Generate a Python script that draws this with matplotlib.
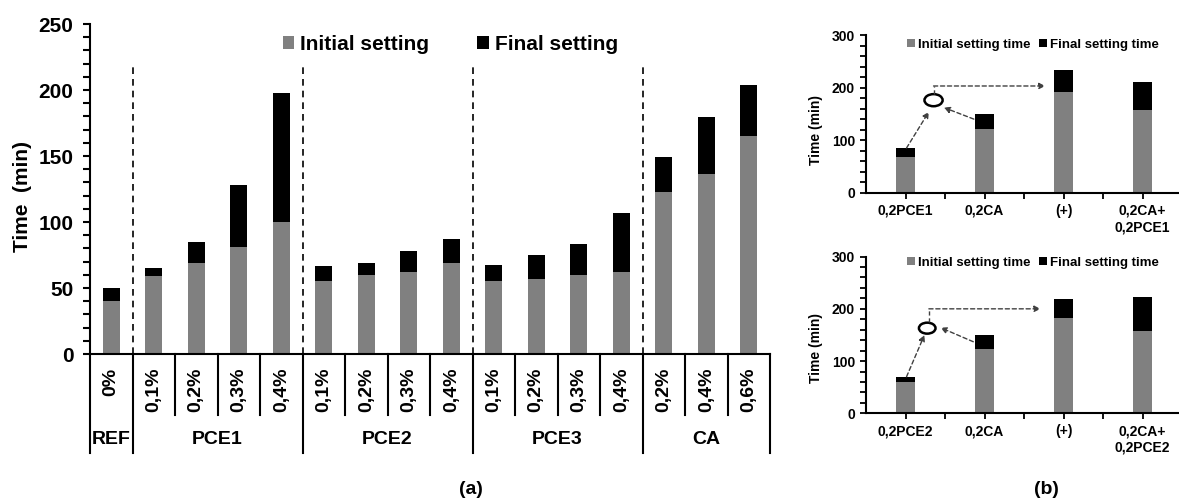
import numpy as np
import matplotlib
matplotlib.use("Agg")
import matplotlib.pyplot as plt
from matplotlib.patches import Ellipse
from matplotlib.ticker import MultipleLocator, FixedLocator

plt.rcParams['font.family'] = ['Liberation Sans', 'DejaVu Sans']
plt.rcParams['font.weight'] = 'bold'

# ---------------- data (a) ----------------
groups_a = ['REF', 'PCE1', 'PCE2', 'PCE3', 'CA']
group_sizes_a = [1, 4, 4, 4, 3]
dosage_labels_a = ['0%',
                   '0,1%', '0,2%', '0,3%', '0,4%',
                   '0,1%', '0,2%', '0,3%', '0,4%',
                   '0,1%', '0,2%', '0,3%', '0,4%',
                   '0,2%', '0,4%', '0,6%']
initial_a = [40, 59, 69, 81, 100,
             55.5, 59.5, 62, 69,
             55.5, 57, 60, 62,
             123, 136, 165]
final_a = [50, 65.5, 84.5, 128, 198,
           66.5, 69, 78, 87.5,
           67.5, 75, 83, 106.5,
           149.5, 179.5, 203.5]

# ---------------- data (b) ----------------
labels_b1 = ['0,2PCE1', '0,2CA', '(+)', '0,2CA+\n0,2PCE1']
initial_b1 = [68.5, 122, 191, 157]
final_b1 = [84.5, 149, 233, 211]

labels_b2 = ['0,2PCE2', '0,2CA', '(+)', '0,2CA+\n0,2PCE2']
initial_b2 = [59, 122.5, 182.5, 157.5]
final_b2 = [70, 149.5, 218.5, 223.5]

GRAY = '#808080'
BLACK = '#000000'
W, H = 1179, 501

fig = plt.figure(figsize=(W / 100, H / 100), dpi=100)

# ================= panel (a) =================
ax = fig.add_axes([90 / W, 1 - 354 / H, 680 / W, 330 / H])
x = np.arange(len(initial_a))
ini = np.array(initial_a)
fin = np.array(final_a)
b1 = ax.bar(x, ini, width=0.4, color=GRAY, label='Initial setting')
b2 = ax.bar(x, fin - ini, bottom=ini, width=0.4, color=BLACK, label='Final setting')
ax.set_xlim(-0.5, len(x) - 0.5)
ax.set_ylim(0, 250)
ax.yaxis.set_major_locator(MultipleLocator(50))
ax.yaxis.set_minor_locator(MultipleLocator(10))
ax.tick_params(axis='y', which='both', direction='out', length=5, width=1.5,
               labelsize=15, pad=7)
ax.tick_params(axis='x', which='both', bottom=False, labelbottom=False)
for s in ['top', 'right']:
    ax.spines[s].set_visible(False)
for s in ['left', 'bottom']:
    ax.spines[s].set_linewidth(1.5)
for lab in ax.get_yticklabels():
    lab.set_fontweight('bold')
ax.set_ylabel('Time  (min)', fontsize=15, fontweight='bold')
ax.yaxis.set_label_coords(-0.085, 0.476)

# group boundaries
bounds = np.cumsum(group_sizes_a) - 0.5
for bnd in bounds[:-1]:
    ax.plot([bnd, bnd], [0, 220], color='black', lw=1.2, ls=(0, (4, 3)))

# category table below axis
tr = ax.get_xaxis_transform()
long_lines = [-0.5] + list(bounds)
short_lines = [b + 0.5 for b in range(len(x) - 1) if (b + 0.5) not in long_lines]
for xl in long_lines:
    ax.plot([xl, xl], [0, -0.30], transform=tr, color='black', lw=1.5, clip_on=False)
for xl in short_lines:
    ax.plot([xl, xl], [0, -0.185], transform=tr, color='black', lw=1.5, clip_on=False)
for i, lab in enumerate(dosage_labels_a):
    ax.text(i, -0.042, lab, transform=tr, rotation=90, ha='center', va='top',
            fontsize=14, fontweight='bold')
start = -0.5
for g, n in zip(groups_a, group_sizes_a):
    ax.text(start + n / 2, -0.26, g, transform=tr, ha='center', va='center',
            fontsize=14, fontweight='bold')
    start += n

ax.legend(handles=[b1, b2], loc='center', bbox_to_anchor=(0.53, 0.939), ncol=2,
          frameon=False, handlelength=0.55, handleheight=0.55, handletextpad=0.3,
          columnspacing=2.3, prop={'size': 15, 'weight': 'bold'})

fig.text(471 / W, 1 - 490 / H, '(a)', ha='center', va='center', fontsize=14,
         fontweight='bold')


# ================= panel (b) =================
def small_panel(rect, labels, initial, final, leg_y, ylab_y, ell, vline, arrow1, arrow2):
    axb = fig.add_axes(rect)
    xb = np.arange(len(initial))
    i_ = np.array(initial)
    f_ = np.array(final)
    h1 = axb.bar(xb, i_, width=0.25, color=GRAY, label='Initial setting time')
    h2 = axb.bar(xb, f_ - i_, bottom=i_, width=0.25, color=BLACK, label='Final setting time')
    axb.set_xlim(-0.5, len(xb) - 0.5)
    axb.set_ylim(0, 300)
    axb.yaxis.set_major_locator(MultipleLocator(100))
    axb.yaxis.set_minor_locator(MultipleLocator(20))
    axb.set_xticks(xb)
    axb.set_xticklabels(labels)
    axb.xaxis.set_minor_locator(FixedLocator(xb[:-1] + 0.5))
    axb.tick_params(axis='both', which='both', direction='out', length=4, width=1.3,
                    labelsize=10, pad=4)
    axb.tick_params(axis='x', which='major', pad=4)
    for s in ['top', 'right']:
        axb.spines[s].set_visible(False)
    for s in ['left', 'bottom']:
        axb.spines[s].set_linewidth(1.5)
    for lab in axb.get_xticklabels() + axb.get_yticklabels():
        lab.set_fontweight('bold')
    axb.set_ylabel('Time (min)', fontsize=10, fontweight='bold')
    axb.yaxis.set_label_coords(-0.136, ylab_y)
    axb.legend(handles=[h1, h2], loc='center', bbox_to_anchor=(0.528, leg_y), ncol=2,
               frameon=False, handlelength=0.6, handleheight=0.6, handletextpad=0.2,
               columnspacing=0.7, prop={'size': 9.5, 'weight': 'bold'})
    # annotation: ellipse and dashed arrows
    (ex, ey, ew, eh) = ell
    axb.add_patch(Ellipse((ex, ey), ew, eh, fill=False, lw=1.8, color='black'))
    (vx, vy0, vy1, hx1) = vline
    axb.plot([vx, vx], [vy0, vy1], color='#404040', lw=1, ls=(0, (3, 2)))
    ap = dict(arrowstyle='-|>', linestyle=(0, (3, 2)), lw=1, color='#404040',
              mutation_scale=9, shrinkA=0, shrinkB=0)
    axb.annotate('', xy=(hx1, vy1), xytext=(vx, vy1), arrowprops=ap)
    axb.annotate('', xy=arrow1[1], xytext=arrow1[0], arrowprops=ap)
    axb.annotate('', xy=arrow2[1], xytext=arrow2[0], arrowprops=ap)
    return axb


small_panel([866 / W, 1 - 192.7 / H, 316 / W, 157.7 / H], labels_b1, initial_b1, final_b1,
            leg_y=0.937, ylab_y=0.40,
            ell=(0.355, 176, 0.23, 23), vline=(0.355, 188, 203, 1.77),
            arrow1=((0.013, 85), (0.296, 154)), arrow2=((0.865, 140), (0.485, 162)))
small_panel([866 / W, 1 - 413.3 / H, 316 / W, 156.7 / H], labels_b2, initial_b2, final_b2,
            leg_y=0.961, ylab_y=0.417,
            ell=(0.275, 163, 0.21, 21), vline=(0.296, 174, 200, 1.71),
            arrow1=((0.013, 70), (0.24, 150)), arrow2=((0.858, 137), (0.443, 164)))

fig.text(1046 / W, 1 - 490 / H, '(b)', ha='center', va='center', fontsize=14,
         fontweight='bold')

fig.savefig('out.png', dpi=100)
